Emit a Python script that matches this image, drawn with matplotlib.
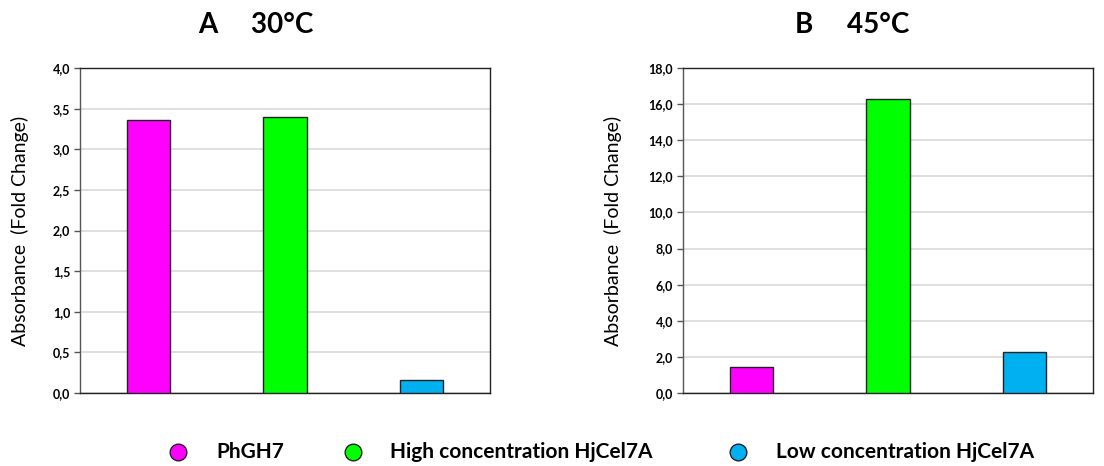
import matplotlib
matplotlib.use("Agg")
import matplotlib.pyplot as plt
from matplotlib.lines import Line2D

categories = ["PhGH7", "High concentration HjCel7A", "Low concentration HjCel7A"]
colors = ["#ff00ff", "#00ff00", "#00b0f0"]
values_30 = [3.36, 3.40, 0.16]
values_45 = [1.46, 16.28, 2.25]
yticks_30 = [0.0, 0.5, 1.0, 1.5, 2.0, 2.5, 3.0, 3.5, 4.0]
yticks_45 = [0.0, 2.0, 4.0, 6.0, 8.0, 10.0, 12.0, 14.0, 16.0, 18.0]

plt.rcParams['font.family'] = ['Lato', 'DejaVu Sans']

fig = plt.figure(figsize=(11.04, 4.66), dpi=100)
W, H = 1104, 466

def make_ax(left_px, values, yticks, title_text, title_x, label_x_px):
    ax = fig.add_axes([left_px / W, (H - 393) / H, 410 / W, 325 / H])
    x = list(range(len(values)))
    ax.bar(x, values, width=0.315, color=colors, edgecolor="#222222", linewidth=1.0, zorder=3)
    ax.set_xlim(-0.5, len(values) - 0.5)
    ax.set_ylim(yticks[0], yticks[-1])
    ax.set_yticks(yticks)
    ax.set_yticklabels([f"{t:.1f}".replace(".", ",") for t in yticks], fontsize=9, fontweight="bold")
    ax.set_xticks([])
    ax.grid(axis="y", color="#d9d9d9", linewidth=1.2, zorder=0)
    for s in ax.spines.values():
        s.set_color("#222222")
        s.set_linewidth(1.0)
    ax.spines["left"].set_color("#555555")
    ax.tick_params(axis="y", length=4, width=1, color="#555555", pad=3)
    ax.set_ylabel("Absorbance  (Fold Change)", fontsize=14)
    ax.yaxis.set_label_coords((label_x_px - left_px) / 410, 0.5)
    fig.text(title_x / W, 1 - 25 / H, title_text, fontsize=20, fontweight="bold",
             ha="center", va="center")
    return ax

make_ax(80, values_30, yticks_30, "A     30°C", 256, 29)
make_ax(683, values_45, yticks_45, "B     45°C", 852, 622)

marker_x = [178, 353, 738]
text_x = [216, 390, 776]
leg_y = 1 - 452 / H
for c, lab, mx, tx in zip(colors, categories, marker_x, text_x):
    fig.add_artist(Line2D([mx / W], [leg_y], marker="o", linestyle="none", markersize=12,
                          markerfacecolor=c, markeredgecolor="#222222", markeredgewidth=1.0,
                          transform=fig.transFigure))
    fig.text(tx / W, leg_y, lab, fontsize=15, fontweight="bold", ha="left", va="center")

fig.savefig("out.png", dpi=100)
